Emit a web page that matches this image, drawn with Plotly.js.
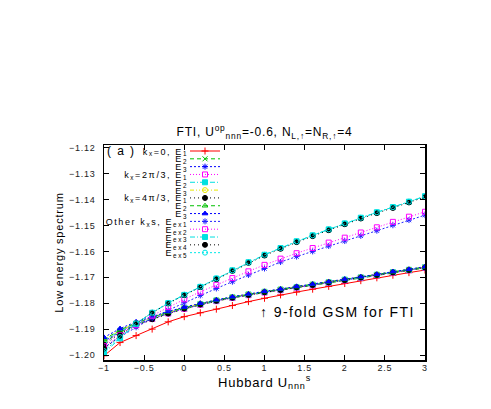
<!DOCTYPE html>
<html>
<head>
<meta charset="utf-8">
<script src="https://cdn.plot.ly/plotly-3.0.1.min.js"></script>
<style>
html,body{margin:0;padding:0;background:#fff;}
#plot{width:491px;height:409px;}
.legendtext{letter-spacing:1.6px;}
.gtitle{letter-spacing:0.8px;}
.xtick text,.ytick text{letter-spacing:0.8px;}
.xtitle,.ytitle{letter-spacing:0.8px;}
.annotation-text{letter-spacing:1.4px;}
</style>
</head>
<body>
<div id="plot"></div>
<script>
// Hubbard U_nnn^s values
var xs = [-1,-0.8,-0.6,-0.4,-0.2,0,0.2,0.4,0.6,0.8,1,1.2,1.4,1.6,1.8,2,2.2,2.4,2.6,2.8,3];

// k_x = 0
var k0E1 = [-1.2003,-1.1952,-1.1925,-1.1900,-1.1872,-1.1852,-1.1837,-1.1823,-1.1809,-1.1794,-1.1781,-1.1768,-1.1757,-1.1746,-1.1735,-1.1724,-1.1713,-1.1702,-1.1692,-1.1682,-1.1672];
var k0E2 = [-1.1952,-1.1912,-1.1884,-1.1861,-1.1840,-1.1822,-1.1806,-1.1792,-1.1780,-1.1769,-1.1759,-1.1750,-1.1741,-1.1731,-1.1722,-1.1712,-1.1703,-1.1693,-1.1683,-1.1674,-1.1664];
var k0E3 = [-1.1948,-1.1909,-1.1881,-1.1858,-1.1838,-1.1820,-1.1804,-1.1790,-1.1778,-1.1767,-1.1757,-1.1748,-1.1739,-1.1729,-1.1720,-1.1710,-1.1701,-1.1691,-1.1681,-1.1672,-1.1662];
// k_x = 2pi/3
var k2E1 = [-1.1955,-1.1914,-1.1885,-1.1861,-1.1840,-1.1822,-1.1806,-1.1792,-1.1780,-1.1769,-1.1759,-1.1750,-1.1740,-1.1731,-1.1721,-1.1712,-1.1702,-1.1692,-1.1682,-1.1673,-1.1663];
var k2E2 = [-1.1945,-1.1907,-1.1879,-1.1856,-1.1836,-1.1818,-1.1803,-1.1789,-1.1777,-1.1766,-1.1756,-1.1747,-1.1738,-1.1728,-1.1719,-1.1709,-1.1700,-1.1690,-1.1680,-1.1671,-1.1661];
var k2E3 = [-1.1942,-1.1905,-1.1877,-1.1855,-1.1835,-1.1817,-1.1802,-1.1788,-1.1776,-1.1765,-1.1755,-1.1746,-1.1737,-1.1727,-1.1718,-1.1709,-1.1699,-1.1689,-1.1680,-1.1670,-1.1660];
// k_x = 4pi/3
var k4E1 = [-1.1960,-1.1917,-1.1887,-1.1862,-1.1840,-1.1821,-1.1805,-1.1791,-1.1779,-1.1768,-1.1758,-1.1749,-1.1739,-1.1730,-1.1720,-1.1711,-1.1701,-1.1691,-1.1681,-1.1672,-1.1662];
var k4E2 = [-1.1940,-1.1903,-1.1876,-1.1854,-1.1834,-1.1817,-1.1801,-1.1788,-1.1776,-1.1765,-1.1755,-1.1746,-1.1736,-1.1727,-1.1718,-1.1708,-1.1699,-1.1689,-1.1679,-1.1670,-1.1660];
var k4E3 = [-1.1932,-1.1898,-1.1872,-1.1851,-1.1832,-1.1815,-1.1800,-1.1787,-1.1775,-1.1764,-1.1754,-1.1745,-1.1735,-1.1726,-1.1717,-1.1707,-1.1698,-1.1688,-1.1678,-1.1669,-1.1659];
// other k_x, excited
var Eex1 = [-1.1972,-1.1930,-1.1893,-1.1858,-1.1827,-1.1798,-1.1770,-1.1743,-1.1717,-1.1691,-1.1666,-1.1641,-1.1620,-1.1600,-1.1579,-1.1560,-1.1540,-1.1520,-1.1499,-1.1479,-1.1460];
var Eex2 = [-1.1966,-1.1924,-1.1885,-1.1848,-1.1815,-1.1785,-1.1756,-1.1729,-1.1703,-1.1677,-1.1652,-1.1628,-1.1607,-1.1587,-1.1566,-1.1547,-1.1527,-1.1507,-1.1486,-1.1466,-1.1447];
var Eex3 = [-1.1992,-1.1936,-1.1880,-1.1837,-1.1800,-1.1768,-1.1737,-1.1705,-1.1673,-1.1642,-1.1613,-1.1587,-1.1561,-1.1538,-1.1515,-1.1492,-1.1470,-1.1449,-1.1429,-1.1408,-1.1387];
var Eex4 = [-1.1975,-1.1926,-1.1878,-1.1837,-1.1801,-1.1769,-1.1738,-1.1707,-1.1675,-1.1644,-1.1616,-1.1590,-1.1564,-1.1541,-1.1518,-1.1495,-1.1473,-1.1452,-1.1432,-1.1411,-1.1390];
var Eex5 = [-1.1985,-1.1931,-1.1878,-1.1836,-1.1799,-1.1767,-1.1736,-1.1704,-1.1673,-1.1642,-1.1613,-1.1587,-1.1561,-1.1538,-1.1515,-1.1492,-1.1470,-1.1449,-1.1429,-1.1408,-1.1387];

var names = [
  'k<sub>x</sub>=0, E<sub>1</sub>','E<sub>2</sub>','E<sub>3</sub>',
  'k<sub>x</sub>=2π/3, E<sub>1</sub>','E<sub>2</sub>','E<sub>3</sub>',
  'k<sub>x</sub>=4π/3, E<sub>1</sub>','E<sub>2</sub>','E<sub>3</sub>',
  'Other k<sub>x</sub>s, E<sub>ex1</sub>','E<sub>ex2</sub>','E<sub>ex3</sub>','E<sub>ex4</sub>','E<sub>ex5</sub>'
];
var series = [k0E1,k0E2,k0E3,k2E1,k2E2,k2E3,k4E1,k4E2,k4E3,Eex1,Eex2,Eex3,Eex4,Eex5];
var colors = ['#ff0000','#00c000','#0000ff','#ff00ff','#00e0e0','#e8e800','#000000','#00c000','#0000ff','#2020ff','#ff00ff','#00e0e0','#000000','#00e8e8'];
var symbols = ['cross-thin-open','x-thin-open','asterisk-open','square-open','square','circle-open','circle','triangle-up-open','triangle-up','asterisk-open','square-open','square','circle','circle-open'];
var dashes = ['solid','4px,3px','2px,2px','1px,2px','5px,2px,1px,2px','4px,2px,1px,2px,1px,2px','1px,3px','4px,3px','2px,2px','2px,2px','1px,2px','5px,2px,1px,2px','1px,3px','2px,2px'];

var traces = series.map(function(ys,i){
  return {
    x: xs, y: ys, name: names[i], type: 'scatter', mode: 'lines+markers',
    line: {color: colors[i], width: 1, dash: dashes[i]},
    marker: {symbol: symbols[i], size: 5, color: colors[i], line: {color: colors[i], width: 1}}
  };
});

var F = 'Liberation Sans, Arial, sans-serif';
var layout = {
  width: 491, height: 409,
  margin: {l: 104, r: 66, t: 145, b: 49},
  paper_bgcolor: '#fff', plot_bgcolor: '#fff',
  font: {family: F, color: '#000', size: 10},
  title: {text: 'FTI, U<sup>op</sup><sub>nnn</sub>=-0.6, N<sub>L,↑</sub>=N<sub>R,↑</sub>=4',
          font: {family: F, size: 12, color: '#000'}, x: 0.5, xref: 'paper', xanchor: 'center',
          y: 1 - 132/409, yanchor: 'middle'},
  showlegend: true,
  legend: {x: 0.02, y: 0.98, xanchor: 'left', yanchor: 'top', bgcolor: 'rgba(0,0,0,0)', borderwidth: 0,
           font: {family: F, size: 9, color: '#000'}, tracegroupgap: 0},
  xaxis: {range: [-1, 3], dtick: 0.5, tick0: -1, showgrid: false, zeroline: false,
          showline: true, linecolor: '#000', linewidth: 1.5, mirror: 'ticks',
          ticks: 'inside', ticklen: 5, tickcolor: '#000', tickwidth: 1,
          tickfont: {family: F, size: 9, color: '#222'}, ticklabelstandoff: -1,
          title: {text: 'Hubbard U<sub>nnn</sub><sup>s</sup>', font: {family: F, size: 13, color: '#000'}, standoff: 0},
          automargin: false},
  yaxis: {range: [-1.20193, -1.11892], dtick: 0.01, tick0: -1.2, showgrid: false, zeroline: false,
          showline: true, linecolor: '#000', linewidth: 1.5, mirror: 'ticks',
          ticks: 'inside', ticklen: 5, tickcolor: '#000', tickwidth: 1,
          tickformat: '.2f', tickfont: {family: F, size: 9, color: '#222'}, ticklabelstandoff: 5,
          title: {text: 'Low energy spectrum', font: {family: F, size: 11, color: '#000'}, standoff: 3},
          automargin: false},
  annotations: [
    {text: '( a )', xref: 'paper', yref: 'paper', x: 0.003, y: 1 - 6/215, xanchor: 'left', yanchor: 'middle',
     showarrow: false, font: {family: F, size: 12, color: '#000'}},
    {text: '↑ 9-fold GSM for FTI', xref: 'paper', yref: 'paper', x: (417-104)/321, y: (360-312)/215,
     xanchor: 'right', yanchor: 'middle', showarrow: false, font: {family: F, size: 14, color: '#000'}}
  ]
};

Plotly.newPlot('plot', traces, layout, {staticPlot: true, displayModeBar: false}).then(function(gd){
  var leg = gd.querySelector('g.legend');
  if (!leg) return;
  leg.setAttribute('transform', 'translate(185,141)');
  leg.querySelectorAll('[clip-path]').forEach(function(e){ e.removeAttribute('clip-path'); });
  var bg = leg.querySelector('rect.bg'); if (bg) bg.style.display = 'none';
  var sb = leg.querySelector('.scrollbar'); if (sb) sb.style.display = 'none';
  var sbox = leg.querySelector('g.scrollbox'); if (sbox) sbox.setAttribute('transform', 'translate(0,0)');
  leg.querySelectorAll('g.traces').forEach(function(t, i){
    t.setAttribute('transform', 'translate(0,' + (10 + i * 7.82).toFixed(2) + ')');
    var tx = t.querySelector('text.legendtext');
    if (tx) { tx.setAttribute('text-anchor', 'end'); tx.setAttribute('x', 3); }
  });
});
</script>
</body>
</html>
